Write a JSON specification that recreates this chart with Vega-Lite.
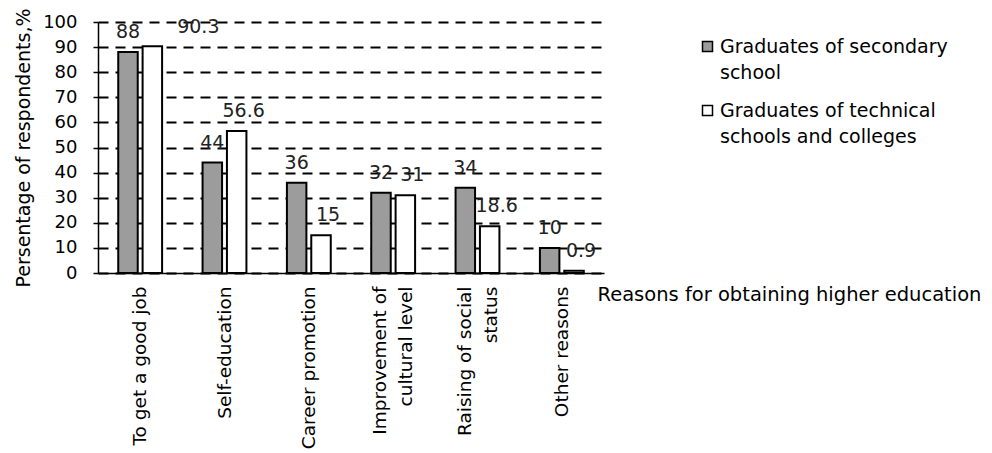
{
  "$schema": "https://vega.github.io/schema/vega-lite/v6.json",
  "width": 506,
  "height": 251,
  "autosize": "none",
  "padding": {"left": 98, "top": 22, "right": 388, "bottom": 180},
  "config": {
    "font": "DejaVu Sans",
    "view": {"stroke": null},
    "background": "white",
    "style": {"guide-label": {"lineHeight": 26}}
  },
  "data": {
    "values": [
      {"reason": "To get a good job", "group": "Graduates of secondary school", "value": 88},
      {"reason": "To get a good job", "group": "Graduates of technical schools and colleges", "value": 90.3},
      {"reason": "Self-education", "group": "Graduates of secondary school", "value": 44},
      {"reason": "Self-education", "group": "Graduates of technical schools and colleges", "value": 56.6},
      {"reason": "Career promotion", "group": "Graduates of secondary school", "value": 36},
      {"reason": "Career promotion", "group": "Graduates of technical schools and colleges", "value": 15},
      {"reason": "Improvement of cultural level", "group": "Graduates of secondary school", "value": 32},
      {"reason": "Improvement of cultural level", "group": "Graduates of technical schools and colleges", "value": 31},
      {"reason": "Raising of social status", "group": "Graduates of secondary school", "value": 34},
      {"reason": "Raising of social status", "group": "Graduates of technical schools and colleges", "value": 18.6},
      {"reason": "Other reasons", "group": "Graduates of secondary school", "value": 10},
      {"reason": "Other reasons", "group": "Graduates of technical schools and colleges", "value": 0.9}
    ]
  },
  "encoding": {
    "x": {
      "field": "reason",
      "type": "nominal",
      "sort": null,
      "scale": {"paddingInner": 0.48, "paddingOuter": 0.24},
      "axis": {
        "title": "Reasons for obtaining higher education",
        "titleX": 499,
        "titleY": 21,
        "titleAlign": "left",
        "titleAnchor": null,
        "titleBaseline": "middle",
        "titleFontSize": 19.5,
        "titleFontWeight": "normal",
        "titleColor": "black",
        "labelAngle": 270,
        "labelAlign": "right",
        "labelBaseline": "middle",
        "labelFontSize": 18.5,
        "labelColor": "black",
        "labelLineHeight": 26,
        "labelPadding": 13,
        "labelLimit": 300,
        "labelOffset": {"condition": {"test": "datum.value == 'Improvement of cultural level' || datum.value == 'Raising of social status'", "value": -13}, "value": 0},
        "labelExpr": "datum.value == 'Improvement of cultural level' ? ['Improvement of', 'cultural level\u00a0'] : datum.value == 'Raising of social status' ? ['Raising of social', 'status\u00a0\u00a0\u00a0\u00a0\u00a0\u00a0\u00a0\u00a0'] : datum.label",
        "ticks": false,
        "domainColor": "black",
        "domainWidth": 1.5
      }
    },
    "xOffset": {
      "field": "group",
      "type": "nominal",
      "sort": null,
      "scale": {"paddingInner": 0.2}
    },
    "y": {
      "field": "value",
      "type": "quantitative",
      "scale": {"domain": [0, 100], "nice": false},
      "axis": {
        "values": [0, 10, 20, 30, 40, 50, 60, 70, 80, 90, 100],
        "title": "Persentage of respondents,%",
        "titleFontSize": 19,
        "titleFontWeight": "normal",
        "titleColor": "black",
        "titlePadding": 9,
        "labelFontSize": 18,
        "labelColor": "black",
        "labelPadding": 16,
        "tickSize": 5,
        "tickColor": "black",
        "tickWidth": 1.5,
        "domainColor": "black",
        "domainWidth": 1.5,
        "grid": true,
        "gridColor": "black",
        "gridWidth": 2,
        "gridDash": [10, 7],
        "gridOpacity": 1
      }
    }
  },
  "layer": [
    {
      "mark": {"type": "bar", "stroke": "black", "strokeWidth": 2},
      "encoding": {
        "fill": {
          "field": "group",
          "type": "nominal",
          "sort": null,
          "scale": {"range": ["#9c9c9c", "#ffffff"]},
          "legend": {
            "orient": "none",
            "legendX": 600,
            "legendY": 15,
            "title": null,
            "symbolType": "square",
            "symbolSize": 100,
            "symbolStrokeColor": "black",
            "symbolStrokeWidth": 1.5,
            "labelFontSize": 19,
            "labelColor": "black",
            "labelLimit": 400,
            "labelOffset": 3,
            "labelBaseline": "middle",
            "rowPadding": 18,
            "labelExpr": "datum.label == 'Graduates of secondary school' ? ['Graduates of secondary', 'school'] : ['Graduates of technical', 'schools and colleges']"
          }
        }
      }
    },
    {
      "transform": [{"filter": "datum.group == 'Graduates of secondary school'"}],
      "mark": {"type": "text", "dy": -20, "fontSize": 19, "color": "#222222", "baseline": "middle"},
      "encoding": {"text": {"field": "value", "type": "quantitative"}}
    },
    {
      "transform": [{"filter": "datum.group == 'Graduates of technical schools and colleges' && datum.value < 90"}],
      "mark": {"type": "text", "dy": -20, "dx": 7, "fontSize": 19, "color": "#222222", "baseline": "middle"},
      "encoding": {"text": {"field": "value", "type": "quantitative"}}
    },
    {
      "transform": [{"filter": "datum.group == 'Graduates of technical schools and colleges' && datum.value > 90"}],
      "mark": {"type": "text", "dy": -19, "dx": 46, "fontSize": 19, "color": "#222222", "baseline": "middle"},
      "encoding": {"text": {"field": "value", "type": "quantitative"}}
    }
  ]
}
